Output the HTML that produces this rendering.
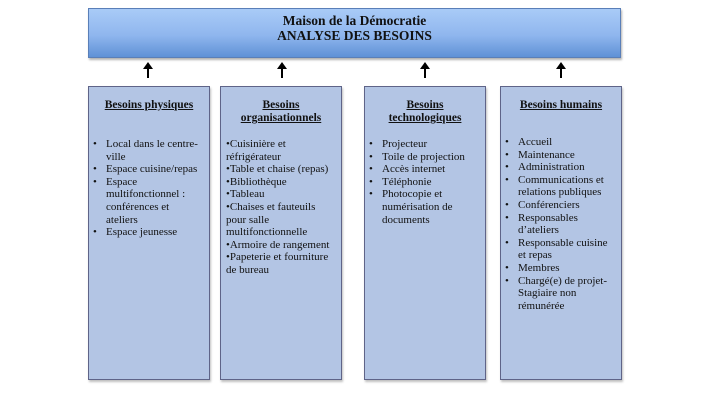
<!DOCTYPE html>
<html><head><meta charset="utf-8"><style>
body{margin:0;width:720px;height:405px;background:#fff;position:relative;overflow:hidden;font-family:"Liberation Serif",serif;color:#111;}
.title{position:absolute;left:88px;top:8px;width:533px;height:50px;box-sizing:border-box;border:1px solid #5a7fb8;background:linear-gradient(#a9cbf7,#8fb6ee 55%,#5f91d6);text-align:center;font-weight:bold;font-size:13.5px;line-height:15px;padding-top:4px;box-shadow:1px 2px 2px rgba(0,0,0,.3);}
.box{position:absolute;top:86px;width:122px;height:294px;box-sizing:border-box;border:1px solid #5f6488;background:#b3c5e4;font-size:11px;line-height:12.6px;box-shadow:1px 2px 2px rgba(0,0,0,.25);}
.h{font-weight:bold;text-decoration:underline;text-align:center;font-size:11.5px;line-height:13px;position:absolute;left:-4px;right:-4px;}
ul{list-style:none;margin:0;padding:0;position:absolute;left:3px;right:8px;}
ul li{position:relative;padding-left:14px;}
ul li:before{content:"•";position:absolute;left:1px;}
.p{position:absolute;left:5px;right:6px;}
.ar{position:absolute;top:64px;width:2px;height:14px;background:#000;}
.ar:before{content:"";position:absolute;left:-4px;top:-2px;border-left:5px solid transparent;border-right:5px solid transparent;border-bottom:7px solid #000;}
</style></head><body>
<div class="title">Maison de la Démocratie<br>ANALYSE DES BESOINS</div>
<div class="ar" style="left:147px"></div>
<div class="ar" style="left:281px"></div>
<div class="ar" style="left:424px"></div>
<div class="ar" style="left:560px"></div>

<div class="box" style="left:88px">
<div class="h" style="top:12px">Besoins physiques</div>
<ul style="top:51px"><li>Local dans le centre-<br>ville</li><li>Espace cuisine/repas</li><li>Espace<br>multifonctionnel :<br>conférences et<br>ateliers</li><li>Espace jeunesse</li></ul>
</div>

<div class="box" style="left:220px">
<div class="h" style="top:12px">Besoins<br>organisationnels</div>
<div class="p" style="top:51px">•Cuisinière et<br>réfrigérateur<br>•Table et chaise (repas)<br>•Bibliothèque<br>•Tableau<br>•Chaises et fauteuils<br>pour salle<br>multifonctionnelle<br>•Armoire de rangement<br>•Papeterie et fourniture<br>de bureau</div>
</div>

<div class="box" style="left:364px">
<div class="h" style="top:12px">Besoins<br>technologiques</div>
<ul style="top:51px"><li>Projecteur</li><li>Toile de projection</li><li>Accès internet</li><li>Téléphonie</li><li>Photocopie et<br>numérisation de<br>documents</li></ul>
</div>

<div class="box" style="left:500px">
<div class="h" style="top:12px">Besoins humains</div>
<ul style="top:49px"><li>Accueil</li><li>Maintenance</li><li>Administration</li><li>Communications et<br>relations publiques</li><li>Conférenciers</li><li>Responsables<br>d’ateliers</li><li>Responsable cuisine<br>et repas</li><li>Membres</li><li>Chargé(e) de projet-<br>Stagiaire non<br>rémunérée</li></ul>
</div>
</body></html>
